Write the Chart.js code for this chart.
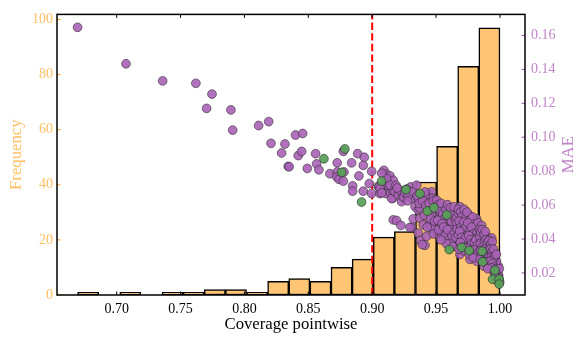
<!DOCTYPE html>
<html>
<head>
<meta charset="utf-8">
<script src="https://cdn.jsdelivr.net/npm/chart.js@4.4.0/dist/chart.umd.min.js"></script>
<style>
  html, body { margin: 0; padding: 0; background: #fff; }
  canvas { display: block; }
</style>
</head>
<body>
<canvas id="coverageChart" width="587" height="344"></canvas>
<script>
// histogram of pointwise coverage, 20 equal bins
var binStart = 0.6694;
var binWidth = 0.01653;
var binCounts = [1, 0, 1, 0, 1, 1, 2, 2, 1, 5, 6, 5, 10, 13, 21, 23, 41, 54, 83, 97];

var targetCoverage = 0.90;

var xTicks = [0.70, 0.75, 0.80, 0.85, 0.90, 0.95, 1.00];
var freqTicks = [0, 20, 40, 60, 80, 100];
var maeTicks = [0.02, 0.04, 0.06, 0.08, 0.10, 0.12, 0.14, 0.16];

// [coverage, MAE] per series
var purplePoints = [
  [0.6694,0.1648],[0.7073,0.1433],[0.7360,0.1332],[0.7620,0.1318],[0.7746,0.1254],[0.7704,0.1170],
  [0.7894,0.1161],[0.7908,0.1042],[0.8111,0.1069],[0.8190,0.1092],[0.8208,0.0964],[0.8317,0.0960],
  [0.8291,0.0907],[0.8400,0.1013],[0.8456,0.1022],[0.8421,0.0892],[0.8448,0.0916],[0.8343,0.0828],
  [0.8350,0.0826],[0.8492,0.0816],[0.8557,0.0903],[0.8565,0.0843],[0.8583,0.0808],[0.8669,0.0785],
  [0.8726,0.0849],[0.8774,0.0917],[0.8726,0.0795],[0.8779,0.0795],[0.8722,0.0766],[0.8740,0.0752],
  [0.8774,0.0741],[0.8839,0.0849],[0.8886,0.0903],[0.8938,0.0882],[0.8930,0.0834],[0.8896,0.0772],
  [0.8847,0.0713],[0.8847,0.0682],[0.8930,0.0682],[0.8996,0.0799],[0.8977,0.0727],[0.8996,0.0668],
  // 0.90 - 0.917
  [0.9047,0.0711],[0.9061,0.0668],[0.9053,0.0707],[0.9092,0.0805],[0.9113,0.0782],[0.9139,0.0772],
  [0.9100,0.0717],[0.9126,0.0711],[0.9165,0.0746],[0.9108,0.0668],[0.9144,0.0672],[0.9160,0.0639],
  [0.9165,0.0513],[0.9113,0.0756],[0.9139,0.0717],[0.9061,0.0698],[0.9074,0.0672],[0.9165,0.0678],
  [0.9152,0.0639],[0.9074,0.0788],
  // 0.917 - 0.934
  [0.9186,0.0717],[0.9178,0.0678],[0.9204,0.0659],[0.9238,0.0643],[0.9230,0.0620],[0.9301,0.0707],
  [0.9290,0.0668],[0.9309,0.0639],[0.9191,0.0509],[0.9225,0.0480],[0.9309,0.0470],[0.9321,0.0519],
  [0.9295,0.0468],[0.9269,0.0694],[0.9243,0.0649],[0.9335,0.0591],[0.9217,0.0688],[0.9256,0.0672],
  [0.9282,0.0655],[0.9195,0.0701],[0.9320,0.0680],[0.9278,0.0625],
  // 0.934 - 0.950
  [0.9360,0.0639],[0.9400,0.0636],[0.9439,0.0668],[0.9465,0.0678],[0.9360,0.0571],[0.9374,0.0522],
  [0.9400,0.0484],[0.9360,0.0435],[0.9379,0.0392],[0.9413,0.0363],[0.9452,0.0493],[0.9491,0.0445],
  [0.9387,0.0600],[0.9392,0.0367],[0.9426,0.0416],[0.9465,0.0464],[0.9465,0.0639],[0.9413,0.0659],
  [0.9374,0.0583],[0.9348,0.0717],[0.9413,0.0678],[0.9352,0.0655],[0.9367,0.0610],[0.9395,0.0622],
  [0.9420,0.0598],[0.9446,0.0612],[0.9478,0.0624],[0.9440,0.0555],[0.9470,0.0548],[0.9495,0.0575],
  [0.9408,0.0540],[0.9456,0.0520],[0.9488,0.0505],[0.9430,0.0470],[0.9480,0.0430],
  // 0.950 - 0.967
  [0.9530,0.0532],[0.9530,0.0474],[0.9530,0.0416],[0.9569,0.0445],[0.9543,0.0435],[0.9504,0.0630],
  [0.9530,0.0562],[0.9556,0.0591],[0.9648,0.0562],[0.9583,0.0493],[0.9634,0.0474],[0.9608,0.0435],
  [0.9634,0.0562],[0.9608,0.0465],[0.9608,0.0406],[0.9660,0.0387],[0.9515,0.0600],[0.9522,0.0578],
  [0.9540,0.0610],[0.9552,0.0548],[0.9565,0.0520],[0.9578,0.0575],[0.9590,0.0602],[0.9598,0.0530],
  [0.9612,0.0585],[0.9620,0.0505],[0.9628,0.0540],[0.9640,0.0590],[0.9652,0.0515],[0.9660,0.0495],
  [0.9512,0.0510],[0.9518,0.0455],[0.9548,0.0490],[0.9560,0.0470],[0.9575,0.0420],[0.9590,0.0455],
  [0.9595,0.0390],[0.9618,0.0375],[0.9625,0.0420],[0.9645,0.0440],[0.9655,0.0410],[0.9665,0.0458],
  [0.9582,0.0372],[0.9538,0.0395],[0.9630,0.0355],[0.9662,0.0530],
  // 0.967 - 0.983
  [0.9687,0.0591],[0.9713,0.0552],[0.9760,0.0538],[0.9804,0.0503],[0.9700,0.0493],[0.9752,0.0468],
  [0.9674,0.0426],[0.9739,0.0435],[0.9804,0.0445],[0.9791,0.0402],[0.9817,0.0358],[0.9687,0.0309],
  [0.9765,0.0280],[0.9817,0.0270],[0.9674,0.0552],[0.9752,0.0542],[0.9817,0.0519],[0.9726,0.0480],
  [0.9739,0.0367],[0.9675,0.0575],[0.9692,0.0560],[0.9700,0.0530],[0.9720,0.0575],[0.9730,0.0520],
  [0.9742,0.0558],[0.9770,0.0515],[0.9785,0.0530],[0.9795,0.0488],[0.9810,0.0472],[0.9828,0.0495],
  [0.9680,0.0505],[0.9695,0.0470],[0.9710,0.0455],[0.9718,0.0500],[0.9735,0.0470],[0.9748,0.0495],
  [0.9765,0.0450],[0.9778,0.0470],[0.9790,0.0430],[0.9822,0.0440],[0.9830,0.0410],[0.9685,0.0445],
  [0.9700,0.0410],[0.9715,0.0390],[0.9728,0.0405],[0.9755,0.0420],[0.9770,0.0395],[0.9780,0.0375],
  [0.9800,0.0380],[0.9812,0.0395],[0.9826,0.0365],[0.9690,0.0380],[0.9708,0.0350],[0.9722,0.0330],
  [0.9745,0.0345],[0.9760,0.0310],[0.9795,0.0335],[0.9808,0.0300],[0.9830,0.0320],[0.9680,0.0340],
  [0.9790,0.0290],
  // 0.983 - 1.00
  [0.9857,0.0480],[0.9857,0.0396],[0.9896,0.0416],[0.9935,0.0406],[0.9908,0.0358],[0.9921,0.0309],
  [0.9869,0.0299],[0.9960,0.0260],[0.9908,0.0250],[0.9987,0.0241],[0.9974,0.0192],[0.9990,0.0182],
  [0.9843,0.0416],[0.9895,0.0367],[0.9869,0.0309],[0.9973,0.0270],[0.9987,0.0192],[0.9840,0.0455],
  [0.9850,0.0440],[0.9862,0.0455],[0.9875,0.0430],[0.9885,0.0445],[0.9848,0.0375],[0.9860,0.0350],
  [0.9878,0.0385],[0.9890,0.0395],[0.9902,0.0380],[0.9915,0.0390],[0.9928,0.0370],[0.9940,0.0385],
  [0.9882,0.0340],[0.9895,0.0325],[0.9910,0.0335],[0.9925,0.0340],[0.9938,0.0325],[0.9950,0.0340],
  [0.9845,0.0330],[0.9855,0.0310],[0.9880,0.0295],[0.9898,0.0285],[0.9912,0.0290],[0.9935,0.0295],
  [0.9948,0.0285],[0.9962,0.0300],[0.9972,0.0310],[0.9845,0.0280],[0.9870,0.0270],[0.9888,0.0262],
  [0.9920,0.0268],[0.9940,0.0255],[0.9955,0.0235],[0.9968,0.0225],[0.9982,0.0215],[0.9995,0.0225],
  [0.9930,0.0230],[0.9950,0.0210],[0.9965,0.0200],[0.9980,0.0170],[0.9992,0.0160],[0.9960,0.0180],
  [0.9985,0.0150],[0.9998,0.0145],[0.9875,0.0240],[0.9905,0.0225]
];

var greenPoints = [
  [0.8622,0.0873],[0.8786,0.0931],[0.8761,0.0793],[0.8917,0.0618],[0.9074,0.0741],[0.9264,0.0691],
  [0.9374,0.0668],[0.9432,0.0565],[0.9483,0.0585],[0.9583,0.0542],[0.9603,0.0338],[0.9700,0.0351],
  [0.9759,0.0332],[0.9861,0.0328],[0.9864,0.0266],[0.9960,0.0216],[0.9942,0.0163],[0.9994,0.0163],
  [0.9994,0.0134]
];

var xMin = 0.6533, xMax = 1.0196;
var freqMax = 101.85;
var maeMin = 0.0070, maeMax = 0.1724;

var barColor = '#fec574';
var freqColor = '#ffbf60';
var maeColor = '#c084c8';
var serif = "'Liberation Serif', 'Times New Roman', serif";

Chart.defaults.font.family = serif;
Chart.defaults.color = '#000';

// frame, inward ticks and right-hand title drawn over the bars
var frameAndTicks = {
    id: 'frameAndTicks',
    afterDatasetsDraw(chart) {
        var ctx = chart.ctx, a = chart.chartArea, s = chart.scales;
        var len = 3.5;
        ctx.save();
        ctx.lineWidth = 1;
        ctx.strokeStyle = '#000';
        xTicks.forEach(function (v) {
            var px = s.x.getPixelForValue(v);
            ctx.beginPath();
            ctx.moveTo(px, a.top); ctx.lineTo(px, a.top + len);
            ctx.moveTo(px, a.bottom); ctx.lineTo(px, a.bottom - len);
            ctx.stroke();
        });
        ctx.strokeStyle = '#ff9f1c';
        freqTicks.forEach(function (v) {
            var py = s.y.getPixelForValue(v);
            ctx.beginPath(); ctx.moveTo(a.left, py); ctx.lineTo(a.left + len, py); ctx.stroke();
        });
        ctx.strokeStyle = '#9b4fa8';
        maeTicks.forEach(function (v) {
            var py = s.y1.getPixelForValue(v);
            ctx.beginPath(); ctx.moveTo(a.right, py); ctx.lineTo(a.right - len, py); ctx.stroke();
        });
        ctx.lineWidth = 1.5;
        ctx.strokeStyle = '#000';
        ctx.strokeRect(a.left, a.top, a.right - a.left, a.bottom - a.top);

        // MAE label reads bottom to top like the left one
        ctx.fillStyle = maeColor;
        ctx.font = '16.7px ' + serif;
        ctx.textAlign = 'center';
        ctx.textBaseline = 'middle';
        ctx.translate(569, (a.top + a.bottom) / 2);
        ctx.rotate(-Math.PI / 2);
        ctx.fillText('MAE', 0, 0);
        ctx.restore();
    }
};

var ctx = document.getElementById('coverageChart').getContext('2d');
var coverageChart = new Chart(ctx, {
    type: 'bar',
    data: {
        datasets: [
            {
                type: 'scatter',
                data: greenPoints.map(function (p) { return {x: p[0], y: p[1]}; }),
                yAxisID: 'y1',
                backgroundColor: 'rgba(86, 162, 86, 0.92)',
                borderColor: 'rgba(40, 40, 40, 0.75)',
                borderWidth: 0.8,
                pointRadius: 4.4,
                order: 0
            },
            {
                type: 'scatter',
                data: purplePoints.map(function (p) { return {x: p[0], y: p[1]}; }),
                yAxisID: 'y1',
                backgroundColor: 'rgba(168, 98, 182, 0.9)',
                borderColor: 'rgba(40, 40, 40, 0.7)',
                borderWidth: 0.8,
                pointRadius: 4.4,
                order: 1
            },
            {
                type: 'line',
                data: [{x: targetCoverage, y: 0}, {x: targetCoverage, y: freqMax}],
                yAxisID: 'y',
                borderColor: '#ff0000',
                borderWidth: 2,
                borderDash: [7.4, 3.2],
                pointRadius: 0,
                order: 2
            },
            {
                type: 'bar',
                data: binCounts.map(function (c, i) { return {x: binStart + (i + 0.5) * binWidth, y: c}; }),
                yAxisID: 'y',
                backgroundColor: barColor,
                borderColor: '#000',
                borderWidth: 1.5,
                borderSkipped: false,
                barPercentage: 1,
                categoryPercentage: 1,
                order: 3
            }
        ]
    },
    options: {
        responsive: false,
        animation: false,
        layout: { padding: { top: 11, left: 0, right: 0, bottom: 0 } },
        plugins: {
            legend: { display: false },
            tooltip: { enabled: false }
        },
        scales: {
            x: {
                type: 'linear',
                position: 'bottom',
                min: xMin,
                max: xMax,
                offset: false,
                grid: { display: false, drawTicks: false },
                border: { display: false },
                afterBuildTicks: function (scale) { scale.ticks = xTicks.map(function (v) { return {value: v}; }); },
                afterFit: function (scale) { scale.height = 49; },
                ticks: {
                    autoSkip: false,
                    maxRotation: 0,
                    padding: 6,
                    font: { size: 14 },
                    color: '#000',
                    callback: function (v) { return v.toFixed(2); }
                },
                title: {
                    display: true,
                    text: 'Coverage pointwise',
                    font: { size: 16.7 },
                    color: '#000',
                    padding: { top: 0, bottom: 9 }
                }
            },
            y: {
                type: 'linear',
                position: 'left',
                min: 0,
                max: freqMax,
                grid: { display: false, drawTicks: false },
                border: { display: false },
                afterBuildTicks: function (scale) { scale.ticks = freqTicks.map(function (v) { return {value: v}; }); },
                afterFit: function (scale) { scale.width = 57; },
                ticks: {
                    padding: 4,
                    font: { size: 14 },
                    color: freqColor
                },
                title: {
                    display: true,
                    text: 'Frequency',
                    font: { size: 16.7 },
                    color: freqColor,
                    padding: { top: 7, bottom: 0 }
                }
            },
            y1: {
                type: 'linear',
                position: 'right',
                min: maeMin,
                max: maeMax,
                grid: { display: false, drawTicks: false },
                border: { display: false },
                afterBuildTicks: function (scale) { scale.ticks = maeTicks.map(function (v) { return {value: v}; }); },
                afterFit: function (scale) { scale.width = 62; },
                ticks: {
                    padding: 6,
                    font: { size: 14 },
                    color: maeColor,
                    callback: function (v) { return v.toFixed(2); }
                }
            }
        }
    },
    plugins: [frameAndTicks]
});
</script>
</body>
</html>
